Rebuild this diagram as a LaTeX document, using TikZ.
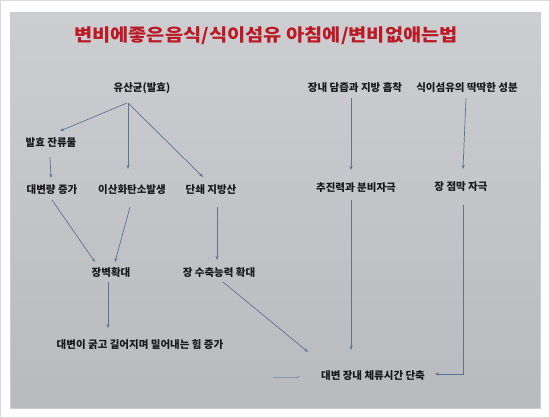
\documentclass[tikz,border=0pt]{standalone}
\usepackage{fontspec}
\usepackage{graphicx}
\IfFontExistsTF{Noto Sans CJK KR Black}
  {\setmainfont{Noto Sans CJK KR Black}}
  {\setmainfont{Noto Sans CJK KR Bold}[FakeBold=3]}
\usetikzlibrary{arrows.meta}
\definecolor{screen}{HTML}{C6C7CB}
\definecolor{screentop}{HTML}{CDCED2}
\definecolor{screenbot}{HTML}{B9BABE}
\definecolor{titlered}{HTML}{BB1A24}
\definecolor{arrowblue}{HTML}{5A7496}
\tikzset{
  lbl/.style={inner sep=1pt, text=black!90, font=\fontsize{10.5}{12}\selectfont},
  ttl/.style={inner sep=1pt, text=titlered, font=\fontsize{17.5}{20}\selectfont},
  arr/.style={draw=arrowblue, line width=0.7pt, -{Stealth[length=4pt,width=3pt]}},
  faint/.style={draw=arrowblue!60!screen, line width=0.6pt, -{Stealth[length=3pt,width=2.5pt]}}
}
\begin{document}
\begin{tikzpicture}[x=1pt,y=-1pt]
\useasboundingbox (0,0) rectangle (550,418);
\fill[white] (0,0) rectangle (550,418);
\draw[black!15, line width=1pt] (0.5,0.5) rectangle (549.5,417.5);
\shade[top color=screentop, bottom color=screenbot] (10,12) rectangle (540,408);
\draw[black!20, line width=0.5pt] (10,12) rectangle (540,408);

\node[ttl] (title) at (266,36) {\scalebox{1.13}[1]{변비에좋은음식/식이섬유 아침에/변비없애는법}};

\node[lbl] (yu)   at (142,88)  {유산균(발효)};
\node[lbl] (bal)  at (51,143)  {발효 잔류물};
\node[lbl] (dae)  at (52,190)  {대변량 증가};
\node[lbl] (co2)  at (132,190) {이산화탄소발생};
\node[lbl] (dan)  at (211,190) {단쇄 지방산};
\node[lbl] (jang) at (111,273) {장벽확대};
\node[lbl] (su)   at (219,273) {장 수축능력 확대};
\node[lbl] (gul)  at (140,345) {대변이 굵고 길어지며 밀어내는 힘 증가};
\node[lbl] (dam)  at (355,88)  {장내 담즙과 지방 흡착};
\node[lbl] (sik)  at (467,88)  {식이섬유의 딱딱한 성분};
\node[lbl] (chu)  at (356,188) {추진력과 분비자극};
\node[lbl] (jeom) at (461,187) {장 점막 자극};
\node[lbl] (ch)   at (373,376) {대변 장내 체류시간 단축};
\coordinate (lf) at (273,377);

\draw[arr] ([shift={(-15,15)}]yu.center) -- ([shift={(9,-12)}]bal.center);
\draw[arr] ([shift={(-14,15)}]yu.center) -- ([shift={(-4,-21)}]co2.center);
\draw[arr] ([shift={(-14,15)}]yu.center) -- ([shift={(-8,-13)}]dan.center);
\draw[arr] ([shift={(-1,14)}]bal.center) -- ([shift={(-1,-12)}]dae.center);
\draw[arr] ([shift={(0,10)}]dae.center) -- ([shift={(-16,-11)}]jang.center);
\draw[arr] ([shift={(-2,17)}]co2.center) -- ([shift={(4,-11)}]jang.center);
\draw[arr] ([shift={(6,17)}]dan.center) -- ([shift={(-2,-13)}]su.center);
\draw[arr] ([shift={(-3,9)}]jang.center) -- ([shift={(-32,-17)}]gul.center);
\draw[arr] ([shift={(4,9)}]su.center) -- ([shift={(-65,-24)}]ch.center);
\draw[arr] ([shift={(-5,12)}]chu.center) -- ([shift={(-22,-26)}]ch.center);
\draw[arr] ([shift={(-4,10)}]dam.center) -- ([shift={(-5,-18)}]chu.center);
\draw[arr] ([shift={(-1,10)}]sik.center) -- ([shift={(2,-18)}]jeom.center);
\draw[arr] ([shift={(2,18)}]jeom.center) |- ([shift={(62,-2)}]ch.center);
\draw[faint] (lf) -- ([shift={(-73,1)}]ch.center);
\end{tikzpicture}
\end{document}
